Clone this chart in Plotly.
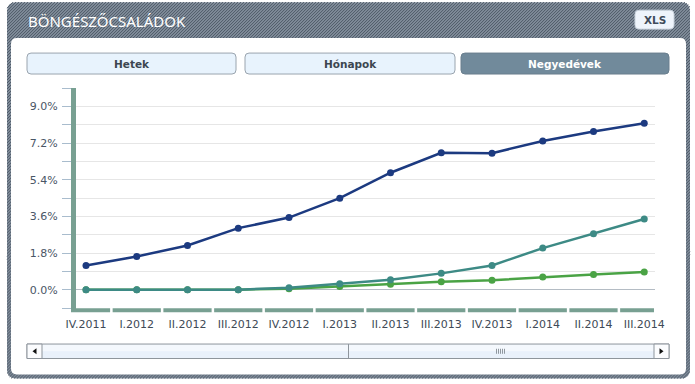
import math
import plotly.graph_objects as go

# ---------------- data ----------------
categories = ["IV.2011", "I.2012", "II.2012", "III.2012", "IV.2012", "I.2013",
              "II.2013", "III.2013", "IV.2013", "I.2014", "II.2014", "III.2014"]
series_navy = [1.19, 1.63, 2.17, 3.02, 3.54, 4.49, 5.74, 6.72, 6.70, 7.30, 7.76, 8.17]
series_teal = [0.0, 0.0, 0.0, 0.0, 0.10, 0.29, 0.49, 0.80, 1.19, 2.04, 2.75, 3.47]
series_green = [0.0, 0.0, 0.0, 0.0, 0.05, 0.16, 0.26, 0.39, 0.46, 0.62, 0.75, 0.87]
y_tick_values = [0.0, 1.8, 3.6, 5.4, 7.2, 9.0]
y_tick_labels = ["0.0%", "1.8%", "3.6%", "5.4%", "7.2%", "9.0%"]
title_text = "BÖNGÉSZŐCSALÁDOK"
button_labels = ["Hetek", "Hónapok", "Negyedévek"]

# ---------------- geometry helpers (pixel -> paper) ----------------
W, H = 695, 384
L, R, T, B = 76, 655, 88, 308.4


def px(x):
    return (x - L) / (R - L)


def py(y):
    return (B - y) / (B - T)


def rrect_path(x0, y0, x1, y1, r):
    pts = []
    pts.append(f"M{px(x0 + r)},{py(y0)}")
    pts.append(f"L{px(x1 - r)},{py(y0)}")
    pts.append(f"Q{px(x1)},{py(y0)} {px(x1)},{py(y0 + r)}")
    pts.append(f"L{px(x1)},{py(y1 - r)}")
    pts.append(f"Q{px(x1)},{py(y1)} {px(x1 - r)},{py(y1)}")
    pts.append(f"L{px(x0 + r)},{py(y1)}")
    pts.append(f"Q{px(x0)},{py(y1)} {px(x0)},{py(y1 - r)}")
    pts.append(f"L{px(x0)},{py(y0 + r)}")
    pts.append(f"Q{px(x0)},{py(y0)} {px(x0 + r)},{py(y0)}")
    pts.append("Z")
    return " ".join(pts)


shapes = []
annotations = []


def add_rrect(x0, y0, x1, y1, r, fill, line_color=None, line_width=0, layer="below"):
    shapes.append(dict(type="path", xref="paper", yref="paper",
                       path=rrect_path(x0, y0, x1, y1, r),
                       fillcolor=fill,
                       line=dict(color=line_color or fill, width=line_width),
                       layer=layer))


def add_rect(x0, y0, x1, y1, fill, line_color=None, line_width=0, layer="below"):
    shapes.append(dict(type="rect", xref="paper", yref="paper",
                       x0=px(x0), x1=px(x1), y0=py(y1), y1=py(y0),
                       fillcolor=fill,
                       line=dict(color=line_color or fill, width=line_width),
                       layer=layer))


def add_text(x, y, text, size, color, bold=False, xanchor="center", family="DejaVu Sans"):
    annotations.append(dict(xref="paper", yref="paper", x=px(x), y=py(y),
                            text=f"<b>{text}</b>" if bold else text,
                            showarrow=False, xanchor=xanchor, yanchor="middle",
                            font=dict(size=size, color=color, family=family)))


def clip_segment(p0, p1, poly):
    # Cyrus-Beck clipping of segment p0->p1 against convex polygon (clockwise on screen)
    t0, t1 = 0.0, 1.0
    dx, dy = p1[0] - p0[0], p1[1] - p0[1]
    n = len(poly)
    cx = sum(p[0] for p in poly) / n
    cyy = sum(p[1] for p in poly) / n
    for i in range(n):
        a, b = poly[i], poly[(i + 1) % n]
        ex, ey = b[0] - a[0], b[1] - a[1]
        nx, ny = -ey, ex
        # orient normal to point inward
        if nx * (cx - a[0]) + ny * (cyy - a[1]) < 0:
            nx, ny = -nx, -ny
        num = nx * (p0[0] - a[0]) + ny * (p0[1] - a[1])
        den = nx * dx + ny * dy
        if den == 0:
            if num < 0:
                return None
            continue
        t = -num / den
        if den > 0:
            t0 = max(t0, t)
        else:
            t1 = min(t1, t)
        if t0 > t1:
            return None
    return (p0[0] + t0 * dx, p0[1] + t0 * dy), (p0[0] + t1 * dx, p0[1] + t1 * dy)


# ---------------- frame ----------------
FX0, FY0, FX1, FY1, FR = 7, 2, 690, 379, 9
add_rrect(FX0, FY0, FX1, FY1, FR, "#808c9a")
# diagonal hatch inside the frame (clipped to an octagon approximating the rounded rect)
k = FR * (1 - 1 / math.sqrt(2)) * 1.6
octagon = [(FX0 + k, FY0), (FX1 - k, FY0), (FX1, FY0 + k), (FX1, FY1 - k),
           (FX1 - k, FY1), (FX0 + k, FY1), (FX0, FY1 - k), (FX0, FY0 + k)]
c = FX0 + FY0
while c < FX1 + FY1:
    seg = clip_segment((c - FY1 - 5, FY1 + 5), (c - FY0 + 5, FY0 - 5), octagon)
    if seg is not None:
        (ax, ay), (bx, by) = seg
        shapes.append(dict(type="line", xref="paper", yref="paper",
                           x0=px(ax), y0=py(ay), x1=px(bx), y1=py(by),
                           line=dict(color="#4e5a67", width=1), layer="below"))
    c += 3
add_rrect(11, 38, 686, 375, 6, "#ffffff")
add_text(26, 21, title_text, 15, "#ffffff", xanchor="left", family="Noto Sans")

# XLS button
add_rrect(635, 10, 674, 29, 4, "#eef4fb", "#c8d2dc", 1)
add_text(654.5, 19.5, "XLS", 10.5, "#3e4b5a", bold=True)

# selector buttons
btn_boxes = [(27, 53, 236, 74), (245, 53, 455, 74), (461, 53, 669, 74)]
for i, (lab, (x0, y0, x1, y1)) in enumerate(zip(button_labels, btn_boxes)):
    active = i == 2
    add_rrect(x0, y0, x1, y1, 4,
              "#718a9b" if active else "#e8f3fd",
              "#6a7f8e" if active else "#9aa4ae", 1)
    add_text((x0 + x1) / 2, (y0 + y1) / 2 + 0.5, lab, 10.5,
             "#ffffff" if active else "#3c4650", bold=True)

# ---------------- axis decorations ----------------
axis_green = "#78a092"
shapes.append(dict(type="rect", xref="paper", yref="paper",
                   x0=px(71), x1=px(76), y0=py(312.7), y1=py(88),
                   fillcolor=axis_green, line=dict(width=0), layer="above"))
x_lo, x_hi = (L - 86) / 50.75, (R - 86) / 50.75
gap = 0.025
for i, _ in enumerate(categories):
    a = max(i - 0.5 + gap, x_lo)
    b = min(i + 0.5 - gap, x_hi - 0.02)
    shapes.append(dict(type="rect", xref="x", yref="paper",
                       x0=a, x1=b, y0=py(312.7), y1=py(308.7),
                       fillcolor=axis_green, line=dict(width=0), layer="above"))

# ---------------- scrollbar ----------------
sb_y0, sb_y1 = 344.5, 359
add_rect(27, sb_y0, 669, sb_y1, "#f4f8fd", "#8e959c", 1)
add_rect(28, (sb_y0 + sb_y1) / 2, 668, sb_y1 - 0.5, "#e9f1fb")
add_rect(27, sb_y0, 42, sb_y1, "#fbfcfe", "#8e959c", 1)
add_rect(654, sb_y0, 669, sb_y1, "#fbfcfe", "#8e959c", 1)
shapes.append(dict(type="line", xref="paper", yref="paper",
                   x0=px(348.5), x1=px(348.5), y0=py(sb_y0), y1=py(sb_y1),
                   line=dict(color="#8e959c", width=1), layer="below"))
cy = (sb_y0 + sb_y1) / 2
shapes.append(dict(type="path", xref="paper", yref="paper",
                   path=f"M{px(36.5)},{py(cy - 3)} L{px(32.5)},{py(cy)} L{px(36.5)},{py(cy + 3)} Z",
                   fillcolor="#111111", line=dict(width=0), layer="below"))
shapes.append(dict(type="path", xref="paper", yref="paper",
                   path=f"M{px(659.5)},{py(cy - 3)} L{px(663.5)},{py(cy)} L{px(659.5)},{py(cy + 3)} Z",
                   fillcolor="#111111", line=dict(width=0), layer="below"))
for kk in range(5):
    gx = 496.5 + 2 * kk
    shapes.append(dict(type="line", xref="paper", yref="paper",
                       x0=px(gx), x1=px(gx), y0=py(cy - 2.5), y1=py(cy + 2.5),
                       line=dict(color="#8f979f", width=1), layer="below"))

# ---------------- traces ----------------
fig = go.Figure()
x_idx = list(range(len(categories)))
for vals, color, name in [(series_green, "#4aa345", "Sorozat 3"),
                          (series_teal, "#3d8a85", "Sorozat 2"),
                          (series_navy, "#1c3a80", "Sorozat 1")]:
    fig.add_trace(go.Scatter(x=x_idx, y=vals, mode="lines+markers", name=name,
                             line=dict(color=color, width=2.5),
                             marker=dict(color=color, size=7),
                             showlegend=False))

fig.update_layout(
    width=W, height=H,
    margin=dict(l=L, r=W - R, t=T, b=H - B, pad=0),
    paper_bgcolor="#ffffff",
    plot_bgcolor="rgba(0,0,0,0)",
    shapes=shapes,
    annotations=annotations,
    showlegend=False,
    xaxis=dict(
        range=[x_lo, x_hi],
        tickmode="array", tickvals=x_idx, ticktext=categories,
        showgrid=False, zeroline=False, showline=False, ticks="",
        tickfont=dict(family="DejaVu Sans", size=11, color="#404a56"),
        ticklabelstandoff=8,
    ),
    yaxis=dict(
        range=[-0.9, 9.9],
        tickmode="array", tickvals=y_tick_values, ticktext=y_tick_labels,
        showgrid=True, gridcolor="#e6e6e6", gridwidth=1,
        zeroline=True, zerolinecolor="#b4bcc4", zerolinewidth=1,
        showline=False,
        ticks="outside", ticklen=13, tickcolor="#a9bccd", tickwidth=1,
        tickfont=dict(family="DejaVu Sans", size=11, color="#4a5666"),
        ticklabelstandoff=2,
        minor=dict(dtick=0.9, tick0=0, ticks="outside", ticklen=13,
                   tickcolor="#a9bccd", showgrid=True, gridcolor="#e6e6e6"),
    ),
)

fig.write_html("out.html",
               config={"displayModeBar": False},
               post_script="document.body.style.margin='0';document.body.style.overflow='hidden';")
